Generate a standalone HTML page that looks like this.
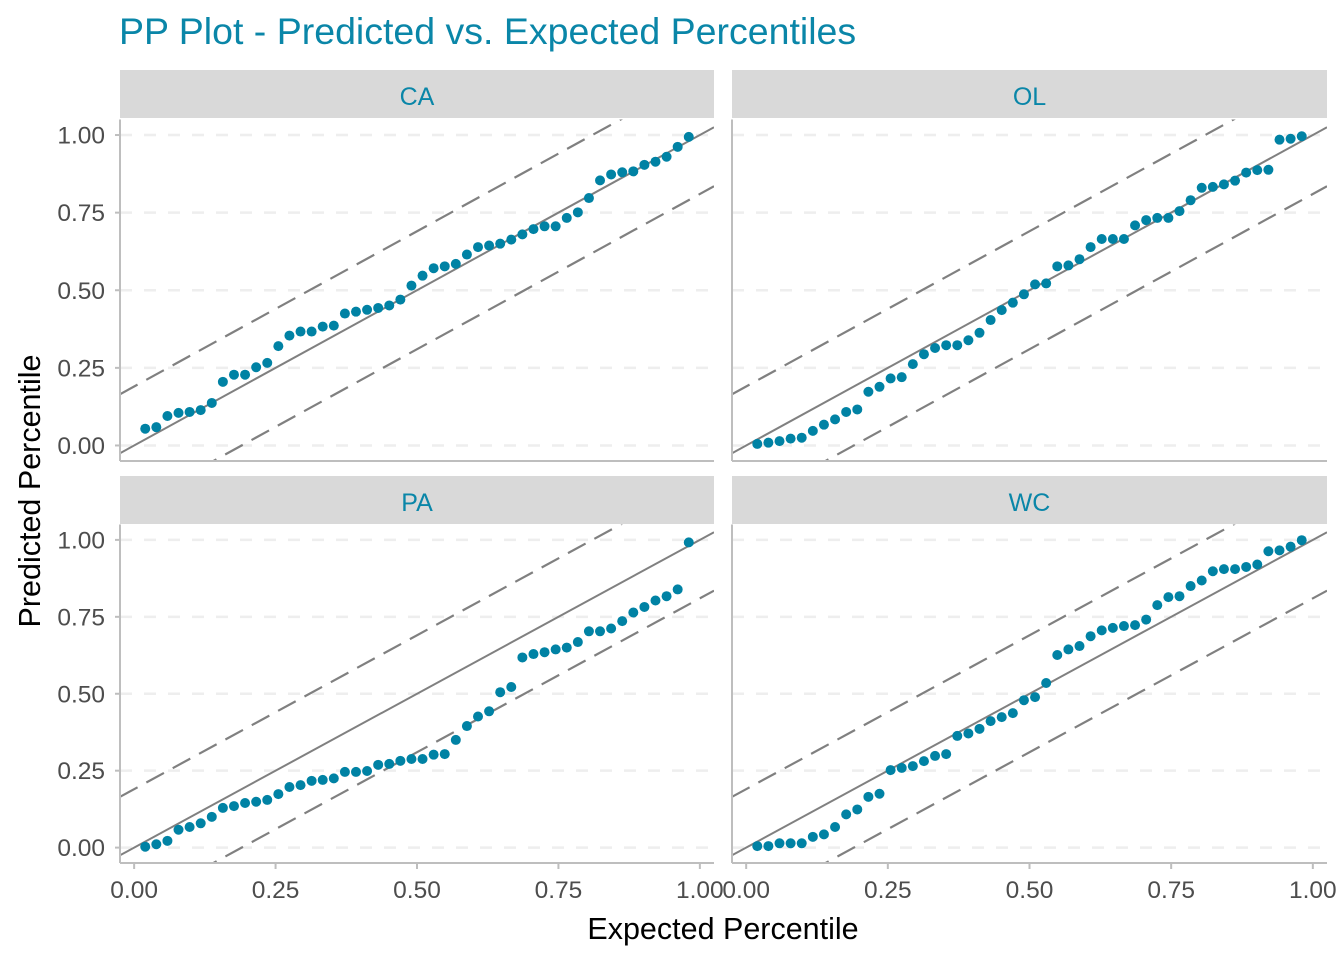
<!DOCTYPE html>
<html><head><meta charset="utf-8"><style>
html,body{margin:0;padding:0;background:#fff;}
svg{display:block;font-family:"Liberation Sans",Arial,sans-serif;}
</style></head><body>
<svg id="chart" width="1344" height="960" viewBox="0 0 1344 960" xmlns="http://www.w3.org/2000/svg">
<rect width="1344" height="960" fill="#fff"/>
<text x="119" y="44" font-size="37.5" fill="#0a86a8">PP Plot - Predicted vs. Expected Percentiles</text>
<text x="723" y="939" font-size="30.5" fill="#000" text-anchor="middle">Expected Percentile</text>
<text transform="translate(40,491) rotate(-90)" font-size="30.5" fill="#000" text-anchor="middle">Predicted Percentile</text>
<g id="panels"></g>
</svg>
<script>
const panelNames = ["CA","OL","PA","WC"];
const xTicks = [0,0.25,0.5,0.75,1];
const yTicks = [0,0.25,0.5,0.75,1];
const tickLabels = ["0.00","0.25","0.50","0.75","1.00"];
const bandOffset = 0.19;
const caValues = [0.054,0.059,0.095,0.105,0.108,0.114,0.137,0.205,0.228,0.228,0.252,0.266,0.32,0.354,0.367,0.367,0.383,0.386,0.425,0.431,0.437,0.443,0.451,0.47,0.515,0.547,0.571,0.577,0.585,0.615,0.639,0.644,0.65,0.663,0.68,0.697,0.706,0.706,0.733,0.751,0.797,0.854,0.873,0.880,0.883,0.904,0.914,0.930,0.962,0.994];
const olValues = [0.005,0.009,0.014,0.022,0.025,0.047,0.067,0.084,0.108,0.116,0.173,0.189,0.216,0.220,0.262,0.294,0.314,0.323,0.323,0.339,0.363,0.404,0.436,0.460,0.487,0.519,0.522,0.577,0.580,0.600,0.639,0.665,0.665,0.665,0.709,0.726,0.733,0.733,0.755,0.790,0.830,0.833,0.841,0.853,0.879,0.887,0.888,0.985,0.988,0.996];
const paValues = [0.003,0.011,0.022,0.058,0.067,0.079,0.100,0.129,0.135,0.145,0.149,0.155,0.174,0.197,0.203,0.217,0.220,0.225,0.246,0.246,0.249,0.269,0.272,0.282,0.288,0.288,0.302,0.304,0.350,0.395,0.426,0.443,0.505,0.522,0.618,0.629,0.635,0.644,0.650,0.668,0.703,0.703,0.712,0.736,0.764,0.782,0.803,0.817,0.839,0.992];
const wcValues = [0.005,0.005,0.014,0.014,0.014,0.035,0.043,0.067,0.108,0.124,0.165,0.175,0.252,0.259,0.265,0.281,0.298,0.304,0.363,0.371,0.386,0.411,0.424,0.437,0.479,0.489,0.535,0.626,0.644,0.655,0.687,0.706,0.714,0.720,0.723,0.741,0.788,0.814,0.817,0.850,0.868,0.898,0.905,0.905,0.912,0.920,0.963,0.966,0.978,0.999];
const seriesList = [caValues, olValues, paValues, wcValues];

const NS = "http://www.w3.org/2000/svg";
const root = document.getElementById("panels");
function mk(tag, attrs, parent){const e=document.createElementNS(NS,tag);for(const k in attrs)e.setAttribute(k,attrs[k]);parent.appendChild(e);return e;}

const layout = [
  {x0:120,x1:714,stripY:70,top:119.5,bottom:461,bottomRow:false,leftCol:true},
  {x0:732,x1:1327,stripY:70,top:119.5,bottom:461,bottomRow:false,leftCol:false},
  {x0:120,x1:714,stripY:476,top:524.5,bottom:863,bottomRow:true,leftCol:true},
  {x0:732,x1:1327,stripY:476,top:524.5,bottom:863,bottomRow:true,leftCol:false}
];
const xMin=-0.025,xMax=1.025,yMin=-0.05,yMax=1.05;

layout.forEach((L,p)=>{
  const g=mk("g",{},root);
  
  
  const sx=v=>L.x0+(v-xMin)/(xMax-xMin)*(L.x1-L.x0);
  const sy=v=>L.bottom-(v-yMin)/(yMax-yMin)*(L.bottom-L.top);
  const clipId="clip"+p;
  const cp=mk("clipPath",{id:clipId},g);
  mk("rect",{x:L.x0,y:L.top,width:L.x1-L.x0,height:L.bottom-L.top},cp);
  const strip=mk("rect",{x:L.x0,y:L.stripY,width:L.x1-L.x0,height:48,fill:"#d9d9d9"},g);
  
  
  const st=mk("text",{x:(L.x0+L.x1)/2,y:L.stripY+35,"font-size":"25","fill":"#0a86a8","text-anchor":"middle"},g);
  st.textContent=panelNames[p];
  
  
  yTicks.forEach(t=>{
    const gl=mk("line",{x1:L.x0,x2:L.x1,y1:sy(t),y2:sy(t),stroke:"#eeeeee","stroke-width":"2.5","stroke-dasharray":"12 12"},g);
    
    
  });
  const cg=mk("g",{"clip-path":"url(#"+clipId+")"},g);
  const ref=mk("line",{x1:sx(xMin),y1:sy(xMin),x2:sx(xMax),y2:sy(xMax),stroke:"#808080","stroke-width":"2"},cg);
  
  
  [bandOffset,-bandOffset].forEach(o=>{
    const b=mk("line",{x1:sx(xMin),y1:sy(xMin+o),x2:sx(xMax),y2:sy(xMax+o),stroke:"#808080","stroke-width":"2.2","stroke-dasharray":"20 10"},cg);
    
    
  });
  const vals=seriesList[p];
  const n=vals.length;
  vals.forEach((v,i)=>{
    const c=mk("circle",{cx:sx((i+1)/(n+1)),cy:sy(v),r:"5",fill:"#0082a4"},cg);
    
    
  });
  const ya=mk("line",{x1:L.x0,x2:L.x0,y1:L.top,y2:L.bottom,stroke:"#bebebe","stroke-width":"2"},g);
  
  
  const xa=mk("line",{x1:L.x0,x2:L.x1,y1:L.bottom,y2:L.bottom,stroke:"#bebebe","stroke-width":"2"},g);
  
  
  if(L.leftCol){
    yTicks.forEach((t,i)=>{
      mk("line",{x1:L.x0-5,x2:L.x0,y1:sy(t),y2:sy(t),stroke:"#bebebe","stroke-width":"2"},g);
      const tl=mk("text",{x:L.x0-15,y:sy(t)+8.5,"font-size":"24.5",fill:"#4d4d4d","text-anchor":"end"},g);
      tl.textContent=tickLabels[i];
      
      
    });
  }
  if(L.bottomRow){
    xTicks.forEach((t,i)=>{
      mk("line",{x1:sx(t),x2:sx(t),y1:L.bottom,y2:L.bottom+6,stroke:"#bebebe","stroke-width":"2"},g);
      const tl=mk("text",{x:sx(t),y:L.bottom+35,"font-size":"24.5",fill:"#4d4d4d","text-anchor":"middle"},g);
      tl.textContent=tickLabels[i];
      
      
    });
  }
});
</script>
</body></html>
